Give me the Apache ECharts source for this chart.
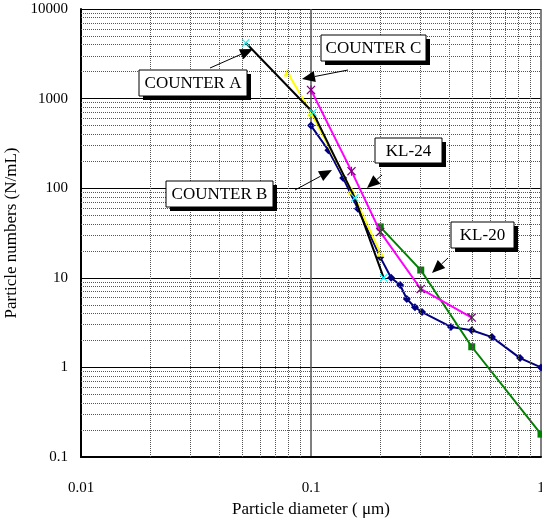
<!DOCTYPE html>
<html><head><meta charset="utf-8">
<script src="https://cdn.jsdelivr.net/npm/echarts@6/dist/echarts.min.js"></script>
<style>html,body{margin:0;padding:0;background:#fff}#c{width:542px;height:520px}</style>
</head><body><div id="c"></div>
<script>
// ---- data ----
const xTickLabels = ['0.01', '0.1', '1'];
const yTickLabels = ['0.1', '1', '10', '100', '1000', '10000'];
const xMinor = [0.02,0.03,0.04,0.05,0.06,0.07,0.08,0.09,0.2,0.3,0.4,0.5,0.6,0.7,0.8,0.9];
const yMinor = [0.2,0.3,0.4,0.5,0.6,0.7,0.8,0.9,2,3,4,5,6,7,8,9,20,30,40,50,60,70,80,90,200,300,400,500,600,700,800,900,2000,3000,4000,5000,6000,7000,8000,9000];

const counterA_x = [0.052, 0.102, 0.155, 0.207];
const counterA_y = [4200, 700, 78, 10];
const counterC_x = [0.079, 0.1, 0.15, 0.2];
const counterC_y = [1950, 700, 94, 19];
const kl24_x = [0.1, 0.15, 0.2, 0.3, 0.5];
const kl24_y = [1250, 155, 32.5, 7.5, 3.6];
const kl20_x = [0.2, 0.3, 0.5, 1.0];
const kl20_y = [37, 12.2, 1.7, 0.18];
const counterB_x = [0.1, 0.119, 0.138, 0.16, 0.2, 0.223, 0.244, 0.261, 0.283, 0.304, 0.406, 0.5, 0.612, 0.811, 1.0];
const counterB_y = [500, 265, 130, 59, 17, 10, 8.3, 5.8, 4.7, 4.15, 2.83, 2.6, 2.18, 1.27, 1.0];

const labels = ['COUNTER A', 'COUNTER B', 'COUNTER C', 'KL-24', 'KL-20'];

const pairs = (xs, ys) => xs.map((x, i) => [x, ys[i]]);
const FONT = '"Liberation Serif", "Times New Roman", serif';

const crossPath = 'path://M0,1L1,0L5,4L9,0L10,1L6,5L10,9L9,10L5,6L1,10L0,9L4,5Z';
const starPath = 'path://M0,1L1,0L4.4,3.4L4.4,0L5.6,0L5.6,3.4L9,0L10,1L6,5L10,9L9,10L5.6,6.6L5.6,10L4.4,10L4.4,6.6L1,10L0,9L4,5Z';

// ---- annotation graphics ----
const boxes = [
  {t: labels[0], x: 139, y: 70, w: 108, h: 26},
  {t: labels[1], x: 166, y: 181, w: 107, h: 26},
  {t: labels[2], x: 321, y: 35, w: 105, h: 26},
  {t: labels[3], x: 375, y: 138, w: 67, h: 25},
  {t: labels[4], x: 451, y: 222, w: 63, h: 26}
];
const arrows = [
  [210, 68, 253, 49],
  [295, 190, 332, 170],
  [348, 70, 302, 79],
  [382, 175, 367, 188],
  [448, 258, 432, 273]
];
const graphics = [];
boxes.forEach(b => {
  graphics.push({type: 'rect', z: 100, shape: {x: b.x + 4, y: b.y + 4, width: b.w, height: b.h}, style: {fill: '#000'}});
  graphics.push({type: 'rect', z: 101, shape: {x: b.x, y: b.y, width: b.w, height: b.h}, style: {fill: '#fff', stroke: '#000', lineWidth: 1}});
  graphics.push({type: 'text', z: 102, x: b.x + b.w / 2, y: b.y + b.h / 2 + 1,
    style: {text: b.t, fill: '#000', font: '17px ' + FONT, textAlign: 'center', textVerticalAlign: 'middle'}});
});
arrows.forEach(a => {
  const [x1, y1, x2, y2] = a;
  const dx = x2 - x1, dy = y2 - y1, L = Math.hypot(dx, dy);
  const ux = dx / L, uy = dy / L, hl = 13, hw = 5.5;
  const bx = x2 - ux * hl, by = y2 - uy * hl;
  graphics.push({type: 'line', z: 100, shape: {x1: x1, y1: y1, x2: bx, y2: by}, style: {stroke: '#000', lineWidth: 1}});
  graphics.push({type: 'polygon', z: 100, shape: {points: [[x2, y2], [bx - uy * hw, by + ux * hw], [bx + uy * hw, by - ux * hw]]}, style: {fill: '#000'}});
});

const chart = echarts.init(document.getElementById('c'), null, {renderer: 'canvas'});
chart.setOption({
  animation: false,
  backgroundColor: '#fff',
  grid: {left: 81, top: 9, right: 1, bottom: 63, containLabel: false, outerBoundsMode: 'none'},
  xAxis: {
    type: 'log', logBase: 10, min: 0.01, max: 1,
    name: 'Particle diameter ( μm)', nameLocation: 'middle', nameGap: 42,
    nameTextStyle: {fontFamily: FONT, fontSize: 17, color: '#000'},
    axisLine: {show: true, lineStyle: {color: '#000', width: 2}},
    axisTick: {show: false},
    axisLabel: {margin: 24, fontFamily: FONT, fontSize: 15, color: '#000', hideOverlap: false,
      formatter: v => { const i = Math.round(Math.log10(v)) + 2; return xTickLabels[i] || ''; }},
    splitLine: {show: true, lineStyle: {color: '#555', width: 1.5}}
  },
  yAxis: {
    type: 'log', logBase: 10, min: 0.1, max: 10000,
    name: 'Particle numbers (N/mL)', nameLocation: 'middle', nameGap: 57,
    nameTextStyle: {fontFamily: FONT, fontSize: 17, color: '#000'},
    axisLine: {show: true, lineStyle: {color: '#000', width: 2}},
    axisTick: {show: false},
    axisLabel: {margin: 13, fontFamily: FONT, fontSize: 15, color: '#000',
      formatter: v => { const i = Math.round(Math.log10(v)) + 1; return yTickLabels[i] || ''; }},
    splitLine: {show: true, lineStyle: {color: '#000', width: 1}}
  },
  series: [
    {
      type: 'line', data: [], silent: true, showSymbol: false, z: 1,
      markLine: {
        silent: true, symbol: 'none', label: {show: false},
        lineStyle: {color: '#555', width: 1, type: [1, 1]},
        emphasis: {disabled: true},
        data: xMinor.map(v => ({xAxis: v})).concat(yMinor.map(v => ({yAxis: v})))
      }
    },
    {
      name: labels[1], type: 'line', data: pairs(counterB_x, counterB_y), z: 3,
      symbol: 'diamond', symbolSize: 8,
      lineStyle: {color: '#000080', width: 2}, itemStyle: {color: '#000080'}
    },
    {
      name: labels[4], type: 'line', data: pairs(kl20_x, kl20_y), z: 3,
      symbol: 'rect', symbolSize: 7,
      lineStyle: {color: '#008000', width: 2}, itemStyle: {color: '#008000'}
    },
    {
      name: labels[3], type: 'line', data: pairs(kl24_x, kl24_y), z: 4,
      symbol: starPath, symbolSize: 9,
      lineStyle: {color: '#ff00ff', width: 2}, itemStyle: {color: '#800080'}
    },
    {
      name: labels[2], type: 'line', data: pairs(counterC_x, counterC_y), z: 4,
      symbol: 'triangle', symbolSize: 8,
      lineStyle: {color: '#ffff00', width: 2}, itemStyle: {color: '#ffff00'}
    },
    {
      name: labels[0], type: 'line', data: pairs(counterA_x, counterA_y), z: 5,
      symbol: crossPath, symbolSize: 8,
      lineStyle: {color: '#000', width: 2}, itemStyle: {color: '#00ffff'}
    }
  ],
  graphic: graphics
});
</script></body></html>
